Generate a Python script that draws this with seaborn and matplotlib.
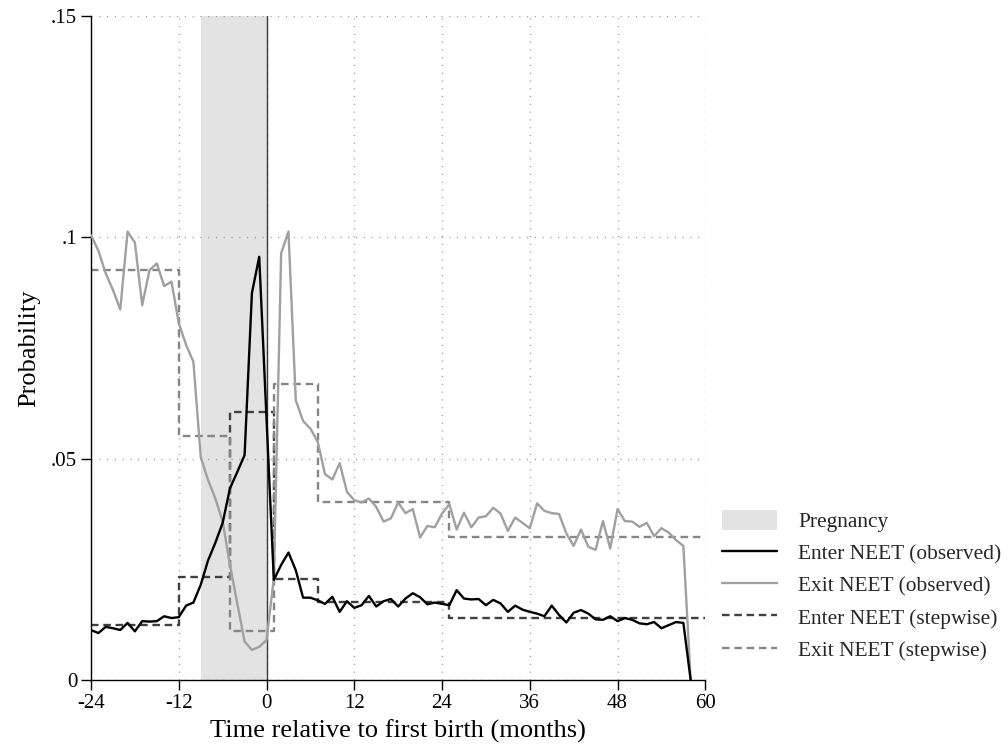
import numpy as np
import pandas as pd
import matplotlib
matplotlib.use("Agg")
import matplotlib.pyplot as plt
import seaborn as sns
from matplotlib.patches import Patch
from matplotlib.lines import Line2D
from matplotlib.ticker import FuncFormatter

# Months relative to first birth
months = list(range(-24, 59))

# Observed monthly transition probabilities
enter_observed = [
    0.0113, 0.0106, 0.0120, 0.0117, 0.0113, 0.0129, 0.0110, 0.0133, 0.0132, 0.0133,
    0.0144, 0.0140, 0.0142, 0.0168, 0.0175, 0.0215, 0.0270, 0.0310, 0.0355, 0.0433,
    0.0470, 0.0508, 0.0874, 0.0956,
    0.0590, 0.0226, 0.0260, 0.0288, 0.0248, 0.0186, 0.0186, 0.0180, 0.0172, 0.0188,
    0.0154, 0.0178, 0.0163, 0.0169, 0.0190, 0.0166, 0.0178, 0.0183, 0.0166, 0.0184,
    0.0196, 0.0187, 0.0171, 0.0175, 0.0172, 0.0169, 0.0203, 0.0184, 0.0182, 0.0183,
    0.0169, 0.0181, 0.0173, 0.0154, 0.0168, 0.0159, 0.0154, 0.0150, 0.0144, 0.0168,
    0.0147, 0.0130, 0.0152, 0.0158, 0.0150, 0.0137, 0.0136, 0.0144, 0.0133, 0.0140,
    0.0136, 0.0128, 0.0126, 0.0131, 0.0117, 0.0124, 0.0131, 0.0129, 0.0000,
]
exit_observed = [
    0.1005, 0.0970, 0.0919, 0.0881, 0.0837, 0.1013, 0.0988, 0.0847, 0.0926, 0.0941,
    0.0890, 0.0900, 0.0806, 0.0757, 0.0719, 0.0504, 0.0452, 0.0410, 0.0358, 0.0260,
    0.0173, 0.0087, 0.0068, 0.0075,
    0.0090, 0.0230, 0.0964, 0.1013, 0.0632, 0.0585, 0.0568, 0.0538, 0.0465, 0.0453,
    0.0490, 0.0425, 0.0406, 0.0401, 0.0410, 0.0391, 0.0358, 0.0365, 0.0401, 0.0377,
    0.0386, 0.0322, 0.0348, 0.0345, 0.0376, 0.0397, 0.0340, 0.0378, 0.0345, 0.0367,
    0.0370, 0.0389, 0.0376, 0.0337, 0.0367, 0.0355, 0.0343, 0.0399, 0.0382, 0.0377,
    0.0375, 0.0331, 0.0303, 0.0340, 0.0301, 0.0294, 0.0359, 0.0297, 0.0386, 0.0359,
    0.0358, 0.0346, 0.0355, 0.0325, 0.0343, 0.0333, 0.0316, 0.0303, 0.0000,
]

# Stepwise estimates: period edges and the level within each period
step_edges = [-24, -12, -5, 1, 7, 25, 60]
enter_step = [0.0124, 0.0232, 0.0606, 0.0228, 0.0177, 0.0139]
exit_step = [0.0926, 0.0551, 0.0111, 0.0668, 0.0402, 0.0322]

pregnancy = (-9, 0)

x_ticks = [-24, -12, 0, 12, 24, 36, 48, 60]
y_ticks = [0, 0.05, 0.10, 0.15]
y_tick_labels = ["0", ".05", ".1", ".15"]

labels = ["Pregnancy", "Enter NEET (observed)", "Exit NEET (observed)",
          "Enter NEET (stepwise)", "Exit NEET (stepwise)"]

sns.set_theme(style="ticks")
plt.rcParams["font.family"] = ["Liberation Serif", "DejaVu Serif"]

obs = pd.DataFrame({"month": months, "enter": enter_observed, "exit": exit_observed})
steps = pd.DataFrame({
    "month": step_edges,
    "enter": enter_step + [enter_step[-1]],
    "exit": exit_step + [exit_step[-1]],
})

fig = plt.figure(figsize=(10.08, 7.44), dpi=100)
ax = fig.add_axes([0.0903, 0.086, 0.6094, 0.8925])

shade_col = "#e3e3e3"
enter_col = "#000000"
exit_col = "#a0a0a0"
enter_step_col = "#404040"
exit_step_col = "#868686"
lw = 1.7
dash = (3.2, 2.0)

ax.axvspan(*pregnancy, color=shade_col, lw=0, zorder=0.5)
ax.axvline(0, color="#3a3a3a", lw=1.0, zorder=1)

sns.lineplot(data=steps, x="month", y="enter", ax=ax, color=enter_step_col, lw=lw,
             drawstyle="steps-post", dashes=False, linestyle=(0, dash), zorder=2)
sns.lineplot(data=steps, x="month", y="exit", ax=ax, color=exit_step_col, lw=lw,
             drawstyle="steps-post", dashes=False, linestyle=(0, dash), zorder=2)
sns.lineplot(data=obs, x="month", y="exit", ax=ax, color=exit_col, lw=lw, zorder=3)
sns.lineplot(data=obs, x="month", y="enter", ax=ax, color=enter_col, lw=lw, zorder=4)

ax.set_xlim(-24, 60)
ax.set_ylim(0, 0.15)
ax.set_xticks(x_ticks)
ax.set_yticks(y_ticks)
ax.yaxis.set_major_formatter(FuncFormatter(
    lambda v, p: y_tick_labels[y_ticks.index(round(v, 2))] if round(v, 2) in y_ticks else ""))
ax.set_xticklabels([str(t) for t in x_ticks])

ax.grid(True, which="major", color="#9a9a9a", lw=1.0, linestyle=(0, (0.8, 4.8)))
ax.set_axisbelow(True)
for s in ["top", "right"]:
    ax.spines[s].set_visible(False)
for s in ["left", "bottom"]:
    ax.spines[s].set_color("#000000")
    ax.spines[s].set_linewidth(1.0)
ax.tick_params(axis="both", direction="out", length=7, width=1.0, color="#000000",
               labelsize=15, labelcolor="#000000", pad=3)

ax.set_xlabel("Time relative to first birth (months)", fontsize=19, color="#000000", labelpad=5)
ax.set_ylabel("Probability", fontsize=19, color="#000000", labelpad=8)

handles = [
    Patch(facecolor=shade_col, edgecolor="none"),
    Line2D([], [], color=enter_col, lw=lw),
    Line2D([], [], color=exit_col, lw=lw),
    Line2D([], [], color=enter_step_col, lw=lw, linestyle=(0, dash)),
    Line2D([], [], color=exit_step_col, lw=lw, linestyle=(0, dash)),
]
fig.legend(handles, labels, loc="upper left", bbox_to_anchor=(0.7163, 0.3145),
           frameon=False, fontsize=15.4, handlelength=2.57, handleheight=1.05,
           handletextpad=0.98, labelspacing=0.47, borderpad=0, borderaxespad=0)

fig.savefig("out.png", dpi=100)
